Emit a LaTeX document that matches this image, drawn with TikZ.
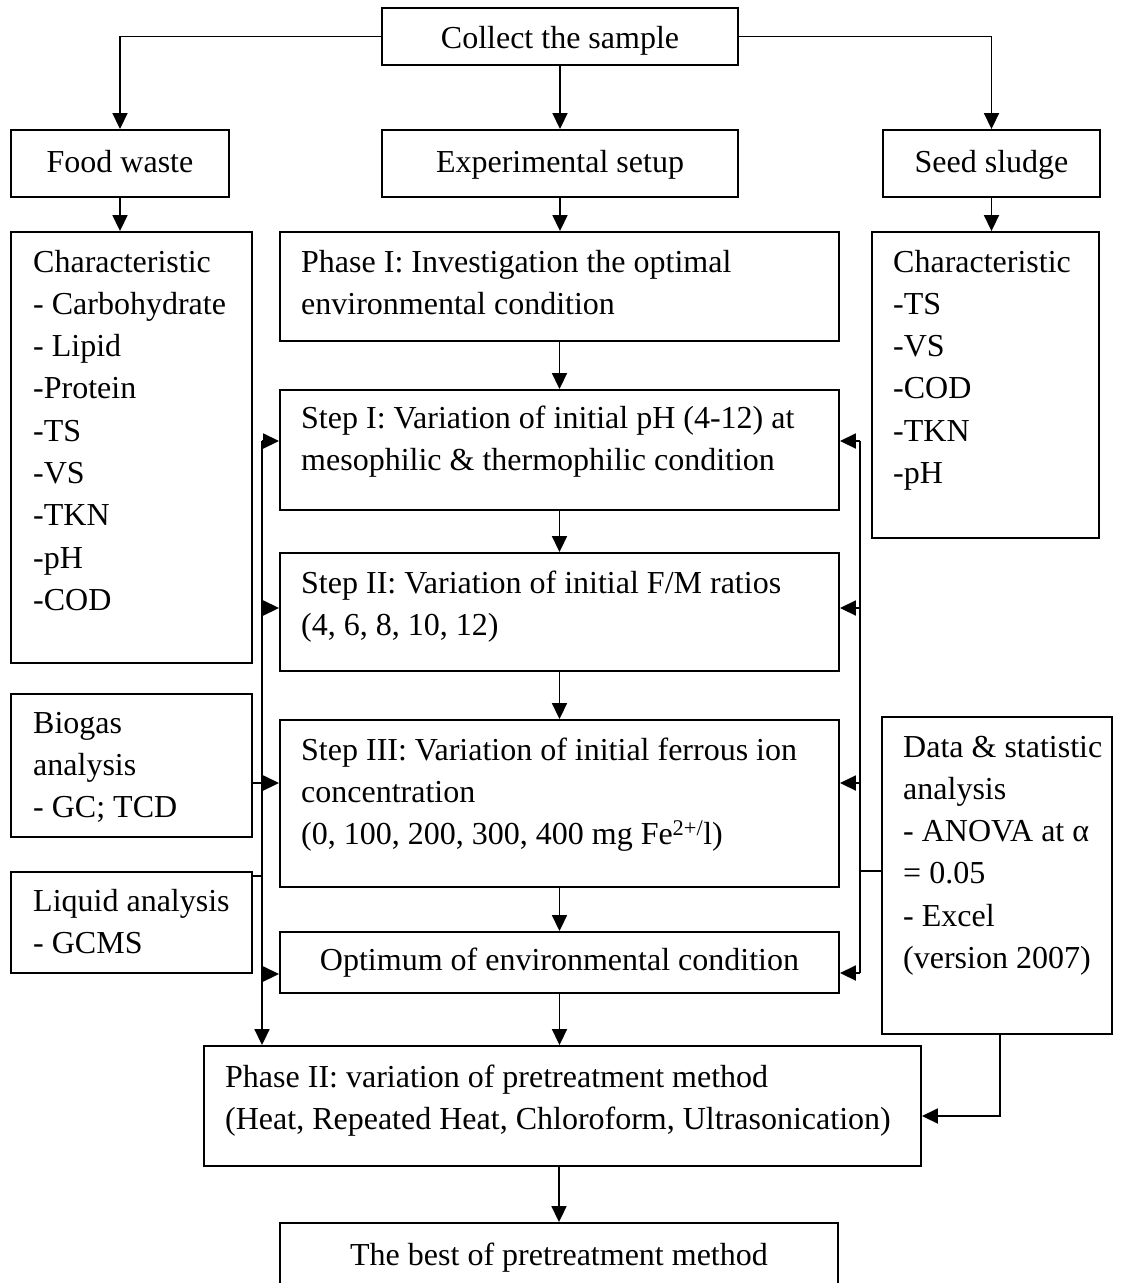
\documentclass[tikz,border=0pt]{standalone}
\usepackage{fontspec}
\setmainfont{Liberation Serif}
\usetikzlibrary{arrows.meta,fit}
\newcommand\mlines[1]{\vtop{\let\\\cr\baselineskip=42.3pt\lineskiplimit=-100pt\lineskip=0pt\halign{##\hfil\cr#1\crcr}}}
\tikzset{
  box/.style={draw, line width=1.9pt, inner sep=0pt},
  txt/.style={inner sep=0pt, anchor=base west, font=\fontsize{32pt}{42.3pt}\selectfont},
  ctxt/.style={inner sep=0pt, anchor=base, font=\fontsize{32pt}{42.3pt}\selectfont},
  ln/.style={line width=1.8pt},
  arr/.style={line width=1.8pt, -{Triangle[length=16pt,width=15pt]}},
}
\begin{document}
\begin{tikzpicture}[x=1pt,y=-1pt]
\clip (0,0) rectangle (1120,1283);
\useasboundingbox (0,0) rectangle (1120,1283);
% boxes
\node[box, fit={(382,8)(738,65)}] (collect) {};
\node[box, fit={(11,130)(229,197)}] (food) {};
\node[box, fit={(382,130)(738,197)}] (exp) {};
\node[box, fit={(883,130)(1100,197)}] (seed) {};
\node[box, fit={(11,232)(252,663)}] (foodc) {};
\node[box, fit={(280,232)(839,341)}] (phase1) {};
\node[box, fit={(872,232)(1099,538)}] (seedc) {};
\node[box, fit={(280,390)(839,510)}] (step1) {};
\node[box, fit={(280,553)(839,671)}] (step2) {};
\node[box, fit={(280,720)(839,887)}] (step3) {};
\node[box, fit={(280,932)(839,993)}] (opt) {};
\node[box, fit={(11,694)(252,837)}] (biogas) {};
\node[box, fit={(11,872)(252,973)}] (liquid) {};
\node[box, fit={(882,717)(1112,1034)}] (data) {};
\node[box, fit={(204,1046)(921,1166)}] (phase2) {};
\node[box, fit={(280,1223)(838,1300)}] (best) {};
% texts
\node[ctxt] (tcollect) at (560,48) {Collect the sample};
\node[ctxt] (tfood) at (120,172) {Food waste};
\node[ctxt] (texp) at (560,172) {Experimental setup};
\node[ctxt] (tseed) at (991.5,172) {Seed sludge};
\node[txt] (tfoodc) at (33,272) {\mlines{Characteristic\\- Carbohydrate\\- Lipid\\-Protein\\-TS\\-VS\\-TKN\\-pH\\-COD}};
\node[txt] (tphase1) at (301,272) {\mlines{Phase I: Investigation the optimal\\environmental condition}};
\node[txt] (tseedc) at (893,272) {\mlines{Characteristic\\-TS\\-VS\\-COD\\-TKN\\-pH}};
\node[txt] (tstep1) at (301,428) {\mlines{Step I: Variation of initial pH (4-12) at\\mesophilic \& thermophilic condition}};
\node[txt] (tstep2) at (301,593) {\mlines{Step II: Variation of initial F/M ratios\\(4, 6, 8, 10, 12)}};
\node[txt] (tstep3) at (301,760) {\mlines{Step III: Variation of initial ferrous ion\\concentration\\(0, 100, 200, 300, 400 mg Fe\textsuperscript{2+/}l)}};
\node[ctxt] (topt) at (559.5,970) {Optimum of environmental condition};
\node[txt] (tbiogas) at (33,733) {\mlines{Biogas\\analysis\\- GC; TCD}};
\node[txt] (tliquid) at (33,911) {\mlines{Liquid analysis\\- GCMS}};
\node[txt] (tdata) at (903,757) {\mlines{Data \& statistic\\analysis\\- ANOVA at α\\= 0.05\\- Excel\\(version 2007)}};
\node[txt] (tphase2) at (225,1087) {\mlines{Phase II: variation of pretreatment method\\(Heat, Repeated Heat, Chloroform, Ultrasonication)}};
\node[ctxt] (tbest) at (559,1265) {The best of pretreatment method};
% top connectors
\draw[arr] (collect.west) -| (food.north);
\draw[arr] (collect.east) -| (seed.north);
\draw[arr] (collect.south) -- (exp.north);
\draw[arr] (food.south) -- (food.south |- foodc.north);
\draw[arr] (exp.south) -- (exp.south |- phase1.north);
\draw[arr] (seed.south) -- (seed.south |- seedc.north);
% main chain
\draw[arr] (phase1.south) -- (step1.north);
\draw[arr] (step1.south) -- (step2.north);
\draw[arr] (step2.south) -- (step3.north);
\draw[arr] (step3.south) -- (opt.north);
\draw[arr] (opt.south) -- (opt.south |- phase2.north);
\draw[arr] (best.north |- phase2.south) -- (best.north);
% left bus
\coordinate (L1) at (262,441);
\coordinate (L2) at (262,608);
\coordinate (L3) at (262,783);
\coordinate (L4) at (262,974);
\coordinate (L6) at (262,876);
\draw[arr] (L1) -- (L1 |- phase2.north);
\draw[arr] (L1) -- (L1 -| step1.west);
\draw[arr] (L2) -- (L2 -| step2.west);
\draw[arr] (L3) -- (L3 -| step3.west);
\draw[arr] (L4) -- (L4 -| opt.west);
\draw[ln] (L3 -| biogas.east) -- (L3);
\draw[ln] (L6 -| liquid.east) -- (L6);
% right bus
\coordinate (R1) at (860,441);
\coordinate (R2) at (860,608);
\coordinate (R3) at (860,783);
\coordinate (R4) at (860,973);
\coordinate (R5) at (860,871);
\draw[ln] (R1) -- (R4);
\draw[arr] (R1) -- (R1 -| step1.east);
\draw[arr] (R2) -- (R2 -| step2.east);
\draw[arr] (R3) -- (R3 -| step3.east);
\draw[arr] (R4) -- (R4 -| opt.east);
\draw[ln] (R5 -| data.west) -- (R5);
% data to phase II
\coordinate (D) at (1000,1116);
\draw[arr] (D |- data.south) -- (D) -- (D -| phase2.east);
\end{tikzpicture}
\end{document}
